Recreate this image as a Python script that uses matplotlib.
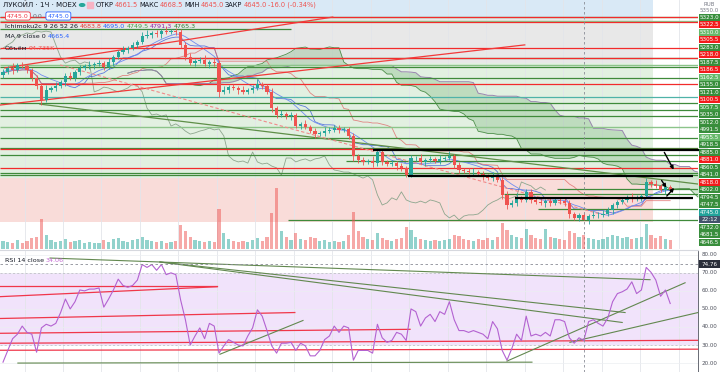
import numpy as np
import pandas as pd
import matplotlib
matplotlib.use("Agg")
import matplotlib.pyplot as plt
from matplotlib.patches import Rectangle, FancyArrowPatch
import matplotlib.transforms as mtrans

plt.rcParams['font.family'] = ['DejaVu Sans']

# ---------------- data ----------------
first_open = 5130
closes = [5139, 5153, 5146, 5163, 5159, 5146, 5119, 5093, 5046, 5079,
          5086, 5093, 5106, 5126, 5119, 5139, 5153, 5159, 5163, 5166,
          5169, 5156, 5173, 5189, 5206, 5213, 5219, 5230, 5240, 5260,
          5263, 5270, 5266, 5276, 5273, 5276, 5273, 5230, 5189, 5169,
          5176, 5179, 5166, 5173, 5169, 5073, 5079, 5089, 5086, 5079,
          5073, 5079, 5086, 5099, 5093, 5073, 5019, 4996, 4999, 4992,
          4996, 4959, 4966, 4956, 4942, 4932, 4936, 4942, 4946, 4952,
          4946, 4949, 4926, 4859, 4845, 4839, 4842, 4835, 4872, 4839,
          4832, 4835, 4825, 4819, 4795, 4852, 4852, 4839, 4845, 4849,
          4842, 4849, 4852, 4859, 4829, 4812, 4809, 4805, 4805, 4799,
          4792, 4785, 4792, 4779, 4729, 4695, 4702, 4719, 4712, 4739,
          4712, 4705, 4702, 4708, 4702, 4712, 4708, 4702, 4665, 4652,
          4661.5, 4645, 4658, 4662, 4662, 4665, 4678, 4695, 4705, 4712,
          4722, 4715, 4719, 4725, 4772, 4765, 4759, 4745, 4755, 4745]
up_wick = [12, 8, 16, 6, 10, 8, 6, 10, 8, 16,
           6, 12, 8, 10, 14, 6, 10, 8, 12, 6,
           10, 8, 12, 6, 8, 14, 6, 10, 8, 12,
           16, 6, 10, 8, 18, 6, 12, 10, 8, 14,
           6, 10, 16, 8, 12, 10, 14, 6, 10, 8,
           12, 6, 10, 16, 8, 6, 12, 8, 14, 6,
           10, 8, 6, 12, 8, 10, 6, 14, 8, 10,
           12, 6, 8, 10, 8, 12, 6, 16, 10, 8,
           6, 12, 8, 10, 6, 10, 8, 14, 6, 10,
           8, 12, 6, 18, 8, 10, 6, 8, 12, 6,
           10, 8, 14, 6, 8, 12, 10, 16, 6, 8,
           10, 6, 12, 8, 10, 6, 8, 12, 10, 6,
           8, 7, 6, 14, 8, 12, 10, 8, 6, 10,
           8, 12, 10, 6, 14, 8, 12, 6, 10, 8]
dn_wick = [10, 6, 12, 8, 6, 10, 8, 12, 17, 8,
           6, 10, 8, 12, 6, 8, 10, 6, 8, 12,
           6, 10, 8, 12, 6, 8, 10, 6, 12, 8,
           6, 10, 8, 12, 6, 8, 10, 12, 8, 6,
           10, 8, 6, 12, 8, 16, 6, 10, 8, 12,
           6, 8, 10, 6, 12, 8, 14, 10, 6, 8,
           12, 6, 10, 8, 6, 12, 8, 10, 6, 8,
           10, 6, 12, 16, 8, 10, 6, 12, 8, 10,
           6, 8, 12, 10, 8, 6, 10, 8, 12, 6,
           8, 10, 6, 8, 12, 10, 6, 8, 10, 6,
           12, 8, 10, 6, 14, 12, 8, 10, 6, 8,
           10, 6, 8, 12, 10, 6, 8, 10, 12, 8,
           10, 0, 12, 8, 10, 6, 8, 12, 10, 6,
           8, 10, 6, 12, 8, 10, 6, 8, 12, 6]
volume = [40, 35, 30, 45, 30, 40, 55, 60, 150, 70,
          45, 35, 40, 50, 35, 40, 45, 30, 35, 30,
          30, 45, 35, 50, 55, 40, 35, 45, 50, 60,
          45, 40, 35, 40, 30, 35, 40, 120, 90, 60,
          45, 40, 35, 40, 35, 200, 80, 50, 40, 35,
          40, 35, 45, 55, 40, 60, 180, 305, 90, 60,
          45, 80, 50, 45, 60, 55, 40, 45, 35, 40,
          35, 40, 70, 185, 90, 60, 50, 45, 80, 55,
          45, 40, 50, 55, 110, 95, 60, 50, 45, 40,
          45, 40, 45, 50, 70, 65, 50, 45, 40, 50,
          45, 55, 45, 60, 130, 95, 70, 60, 55, 100,
          70, 55, 50, 100, 60, 55, 50, 45, 90, 80,
          60, 70, 55, 50, 45, 50, 60, 70, 65, 55,
          60, 50, 55, 60, 125, 70, 55, 65, 50, 45]
rsi_vals = [20.5, 27, 33.5, 36, 40.5, 37, 36, 26, 39.5, 41.5,
            40.5, 42, 48, 55.5, 50, 54, 60.5, 60, 61, 61,
            61.6, 51, 55.5, 60.5, 66.5, 63, 62, 63, 66, 74.6,
            73, 74.6, 71.4, 74.6, 69, 70, 69, 55, 44, 30,
            35, 39.5, 33.5, 42, 40.5, 25.5, 29.5, 33, 31.5, 30,
            29.5, 35, 39.5, 49.5, 46, 38, 29.5, 25.5, 31, 31,
            31.5, 27, 31, 29.5, 24, 24, 27, 33, 35, 40.5,
            37, 40.5, 39.5, 21.6, 27, 27, 27, 25.5, 41.5, 34,
            31.5, 32.5, 37, 36, 32.5, 50, 48.5, 40.5, 45, 47,
            43, 48.5, 47, 54, 44, 38, 38, 37, 38, 37,
            36, 33.5, 43, 39, 27, 21.6, 28, 36, 32.5, 46,
            35, 36, 35, 37, 35, 44, 44, 43, 34, 31,
            34, 32.5, 43, 44, 42, 40.5, 45, 54, 58.5, 59.5,
            61, 65, 58.5, 60.5, 73, 70.3, 66, 57, 60.5, 53]

# horizontal drawing levels (price, kind, start bar)
hl_price = [5323.0, 5322.5, 5310.0, 5305.5, 5283.0, 5218.0, 5187.5, 5186.5,
            5162.5, 5155.0, 5121.0, 5100.5, 5057.5, 5035.0, 5012.0, 4991.5,
            4955.5, 4918.5, 4885.0, 4881.0, 4860.5, 4841.0, 4818.0, 4802.0,
            4794.5, 4747.5, 4732.0, 4681.5, 4646.5]
hl_kind = ['g', 'r', 'lg', 'r', 'g', 'r', 'g', 'r',
           'lg', 'g', 'g', 'r', 't', 'g', 'g', 'g',
           'lg', 'g', 'g', 'r', 'g', 'g', 'r', 'g',
           'g', 'g', 'g', 'g', 'g']
hl_start = [0, 0, 0, 0, 0, 0, 0, 0,
            0, 0, 0, 0, 0, 0, 0, 0,
            0, 0, 0, 0, 0, 72, 0, 0,
            0, 116, 105, 112, 60]
hl_end_short = {4: 60}

# trend lines on price panel: (bar0, price0, bar1, price1)
price_trends_red = [(0.4, 5153, 68.7, 5323), (-0.6, 5029, 108.7, 5230)]
price_trends_green = [(7.7, 5032, 144.8, 4765)]
price_trend_dashed = [(11.9, 5163, 124.4, 4665)]
black_lines = [(77.1, 146.9, 4879), (84.4, 143.8, 4792), (106.7, 143.8, 4718)]
black_arrows = [(137.5, 4879, 140.0, 4805), (136.9, 4785, 138.5, 4745), (137.9, 4718, 140.2, 4759)]

# zones (bar0, bar1, price_lo, price_hi, color)
zones = [(-0.7, 135.4, 5323, 5400, '#d9e9f6'),
         (-0.7, 135.4, 5169, 5323, '#e8e8e8'),
         (-0.7, 135.4, 4785, 5169, '#e2f0e1'),
         (-0.7, 135.4, 4638, 4785, '#f9dcd9')]

# RSI drawings
rsi_red = [(-0.6, 62.9, 44.6, 62.9), (-0.6, 56.8, 44.6, 62.3), (-0.6, 44.7, 60.8, 48.0),
           (-0.6, 36.5, 84.8, 38.7), (-0.6, 31.0, 144.8, 32.6), (-0.6, 27.1, 144.8, 27.7)]
rsi_green = [(3.1, 20.0, 110.2, 20.5), (9.8, 78.2, 134.8, 66.2), (32.7, 76.0, 129.6, 48.0),
             (32.7, 76.0, 129.0, 42.5), (45.2, 24.9, 62.5, 43.6), (105.0, 21.1, 142.1, 64.5),
             (118.1, 31.5, 144.8, 48.0)]

last_price = 4745.0
crosshair_bar = 121
crosshair_rsi = 74.76

# ---------------- figure ----------------
W, H = 720, 372
PX = 698
PH = 249
fig = plt.figure(figsize=(7.2, 3.72), dpi=100)
fig.patch.set_facecolor('white')
ax = fig.add_axes([0, 1 - PH / H, PX / W, PH / H])
axr = fig.add_axes([0, 0, PX / W, 121 / H])

n = len(closes)
x = np.arange(n)
c = np.array(closes, float)
o = np.concatenate([[first_open], c[:-1]])
hi = np.maximum(o, c) + np.array(up_wick)
lo = np.minimum(o, c) - np.array(dn_wick)
XL = (-0.625, 144.79)
YL = (4548, 5380)

for a in (ax, axr):
    a.set_xlim(*XL)
    for s in a.spines.values():
        s.set_visible(False)
    a.set_xticks(np.arange(4.48, 146, 8.02))
    a.tick_params(length=0, labelbottom=False, labelleft=False)
    a.grid(axis='x', color='#e3e5ea', lw=0.6)
    a.set_axisbelow(True)
ax.set_ylim(*YL)
ax.set_yticks([])

# zones
for b0, b1, p0, p1, col in zones:
    ax.add_patch(Rectangle((b0, p0), b1 - b0, p1 - p0, color=col, zorder=0.1, lw=0))

# ichimoku
hs, ls, cs = pd.Series(hi), pd.Series(lo), pd.Series(c)
conv = (hs.rolling(9, min_periods=1).max() + ls.rolling(9, min_periods=1).min()) / 2
base = (hs.rolling(26, min_periods=1).max() + ls.rolling(26, min_periods=1).min()) / 2
spanA = ((conv + base) / 2).values
spanB = ((hs.rolling(52, min_periods=1).max() + ls.rolling(52, min_periods=1).min()) / 2).values
xf = x + 26
ax.fill_between(xf, spanA, spanB, color='#5aa55a', alpha=0.26, lw=0, zorder=1)
ax.plot(xf, spanA, color='#4f8f4c', lw=0.6, zorder=1.2)
ax.plot(xf, spanB, color='#9a86b0', lw=0.7, zorder=1.2)
ax.plot(x - 26, c, color='#8ea68e', lw=0.6, zorder=1.3)
ax.plot(x, conv, color='#3b5bdb', lw=0.6, alpha=0.8, zorder=1.4)
ax.plot(x, base, color='#e06a6a', lw=0.6, alpha=0.8, zorder=1.4)
ma9 = cs.rolling(9, min_periods=1).mean()
ax.plot(x, ma9, color='#6f8cf0', lw=0.6, zorder=1.4)

# horizontal levels
kc = {'g': '#3f8a3a', 'lg': '#8cc48a', 'r': '#f22b2b', 't': '#4fb3a8'}
lab_c = {'g': '#388e3c', 'lg': '#66b96a', 'r': '#f21c1c', 't': '#3f9b43'}
for i, (p, k, s0) in enumerate(zip(hl_price, hl_kind, hl_start)):
    e = hl_end_short.get(i, XL[1])
    lw = 1.0 if k == 'lg' else 0.9
    ax.plot([s0 - 0.6, e], [p, p], color=kc[k], lw=lw, zorder=2, solid_capstyle='butt')

for b0, p0, b1, p1 in price_trends_red:
    ax.plot([b0, b1], [p0, p1], color='#f23a3a', lw=0.9, zorder=2)
for b0, p0, b1, p1 in price_trends_green:
    ax.plot([b0, b1], [p0, p1], color='#5f8f48', lw=0.9, zorder=2)
for b0, p0, b1, p1 in price_trend_dashed:
    ax.plot([b0, b1], [p0, p1], color='#f08a8a', lw=0.8, ls=(0, (3, 2)), zorder=2)

# candles
up = c >= o
body_lo = np.minimum(o, c)
body_h = np.maximum(np.abs(c - o), 1.2)
cu, cd = '#26a69a', '#ef5350'
cols = np.where(up, cu, cd)
ax.vlines(x, lo, hi, colors=cols, lw=0.6, zorder=3)
ax.bar(x, body_h, bottom=body_lo, width=0.66, color=cols, lw=0, zorder=3.1)

# black annotations
for b0, b1, p in black_lines:
    ax.plot([b0, b1], [p, p], color='black', lw=1.6, zorder=5, clip_on=False, solid_capstyle='butt')
for b0, p0, b1, p1 in black_arrows:
    ax.add_patch(FancyArrowPatch((b0, p0), (b1, p1), arrowstyle='-|>', mutation_scale=5,
                                 color='black', lw=1.0, zorder=5, clip_on=False))

# crosshair
ax.axvline(crosshair_bar, color='#8a8d96', lw=0.6, ls=(0, (3, 3)), zorder=4)

# volume
axv = ax.twinx()
axv.set_ylim(0, 1245)
axv.set_xlim(*XL)
axv.axis('off')
vcols = np.where(up, '#26a69a', '#ef5350')
axv.bar(x, volume, width=0.7, color=vcols, alpha=0.5, lw=0)

# right price labels (stacked)
entries = [(p, f"{p:.1f}", lab_c[k]) for p, k in zip(hl_price, hl_kind)]
entries.append((last_price, f"{last_price:.1f}", '#22a39a'))
entries.append((last_price - 0.01, "22:12", '#42546a'))
entries.sort(key=lambda e: -e[0])
hlab = (YL[1] - YL[0]) / PH * 7.5
prev = None
tr = mtrans.blended_transform_factory(ax.transAxes, ax.transData)
for p, txt, col in entries:
    ypos = p if prev is None else min(p, prev - hlab)
    prev = ypos
    ax.add_patch(Rectangle((1 + 1.0 / PX, ypos - hlab * 0.47), 21.0 / PX, hlab * 0.94,
                           transform=tr, color=col, clip_on=False, zorder=6, lw=0))
    ax.text(1 + 11.5 / PX, ypos, txt, transform=tr, ha='center', va='center',
            fontsize=4.1, color='white', clip_on=False, zorder=7)

fig.text(709 / W, 1 - 4 / H, "RUB", fontsize=4, color='#787b86', ha='center', va='center')
fig.text(709 / W, 1 - 11 / H, "5350.0", fontsize=4, color='#787b86', ha='center', va='center')

# ---------------- RSI ----------------
axr.set_ylim(15.05, 82.1)
axr.set_yticks(np.arange(20, 81, 10))
axr.grid(axis='y', color='#eceef2', lw=0.5)
axr.axhspan(30, 70, color='#f1e3fb', lw=0, zorder=0.2)
axr.axhline(70, color='#b8b8c0', lw=0.5, ls=(0, (3, 3)), zorder=0.6)
axr.axhline(30, color='#b8b8c0', lw=0.5, ls=(0, (3, 3)), zorder=0.6)
for b0, v0, b1, v1 in rsi_red:
    axr.plot([b0, b1], [v0, v1], color='#f0364a', lw=0.9, zorder=2)
for b0, v0, b1, v1 in rsi_green:
    axr.plot([b0, b1], [v0, v1], color='#62884f', lw=0.8, zorder=2)
axr.plot(x, rsi_vals, color='#b362d1', lw=0.8, zorder=3)
axr.axvline(crosshair_bar, color='#8a8d96', lw=0.6, ls=(0, (3, 3)), zorder=4)
axr.axhline(crosshair_rsi, color='#8a8d96', lw=0.6, ls=(0, (3, 3)), zorder=4)
axr.spines['right'].set_visible(True)
axr.spines['right'].set_color('#50535e')
axr.spines['right'].set_linewidth(0.6)
trr = mtrans.blended_transform_factory(axr.transAxes, axr.transData)
for v in range(20, 81, 10):
    axr.text(1 + 11.5 / PX, v, f"{v:.2f}", transform=trr, ha='center', va='center',
             fontsize=4.1, color='#50535e', clip_on=False)
axr.add_patch(Rectangle((1 + 0.5 / PX, crosshair_rsi - 2.1), 21.5 / PX, 4.2, transform=trr,
                        color='#2a2e39', clip_on=False, zorder=6, lw=0))
axr.text(1 + 11.5 / PX, crosshair_rsi, f"{crosshair_rsi:.2f}", transform=trr, ha='center',
         va='center', fontsize=4.1, color='white', clip_on=False, zorder=7)
fig.add_artist(plt.Line2D([0, PX / W], [1 - 250 / H, 1 - 250 / H], color='#d6d8de', lw=0.8))

# ---------------- header texts ----------------
renderer = fig.canvas.get_renderer()


def runs(x0, y0, parts, size=4.8, gap=1.5):
    xx = x0
    for s, col in parts:
        t = fig.text(xx / W, 1 - y0 / H, s, color=col, fontsize=size, ha='left', va='center')
        xx += t.get_window_extent(renderer).width + gap
    return xx


dark = '#131722'
red = '#ef5350'
xe = runs(3, 5, [("ЛУКОЙЛ · 1Ч · MOEX", dark)], size=5.0)
fig.add_artist(matplotlib.patches.Circle(((xe + 4) / W, 1 - 5 / H), 2.6 / W, color='#26a69a',
                                          transform=fig.transFigure))
fig.add_artist(Rectangle(((xe + 9) / W, 1 - 8 / H), 6 / W, 6 / H, color='#f7b3c4',
                         transform=fig.transFigure))
runs(xe + 18, 5, [("ОТКР", dark), ("4661.5", red), ("МАКС", dark), ("4668.5", red),
                  ("МИН", dark), ("4645.0", red), ("ЗАКР", dark), ("4645.0", red),
                  ("-16.0 (-0.34%)", red)], size=4.8, gap=1.0)


def boxed(x0, y0, s, col, size=4.5):
    t = fig.text(x0 / W, 1 - y0 / H, s, color=col, fontsize=size, ha='left', va='center',
                 bbox=dict(boxstyle='round,pad=0.25,rounding_size=0.3', fc='white', ec=col, lw=0.6))
    return x0 + t.get_window_extent(renderer).width


xb = boxed(7, 16, "4745.0", '#f23645')
t0 = fig.text((xb + 4) / W, 1 - 16 / H, "0.0", color='#6a6d78', fontsize=4.5, ha='left', va='center')
xb2 = xb + 4 + t0.get_window_extent(renderer).width + 5
boxed(xb2, 16, "4745.0", '#2962ff')
runs(5, 26.5, [("Ichimoku2c 9 26 52 26", dark), ("4683.8", '#e53935'), ("4695.0", '#2962ff'),
               ("4749.5", '#43a047'), ("4791.3", '#8e24aa'), ("4765.3", '#2e7d32')], size=4.6)
runs(5, 37, [("MA 9 close 0", dark), ("4665.4", '#2962ff')], size=4.6)
runs(5, 48, [("Объём", dark), ("94.735K", red)], size=4.6)
runs(5, 260, [("RSI 14 close", dark), ("34.06", '#c46ad3')], size=4.6)

fig.savefig("out.png", dpi=100)
